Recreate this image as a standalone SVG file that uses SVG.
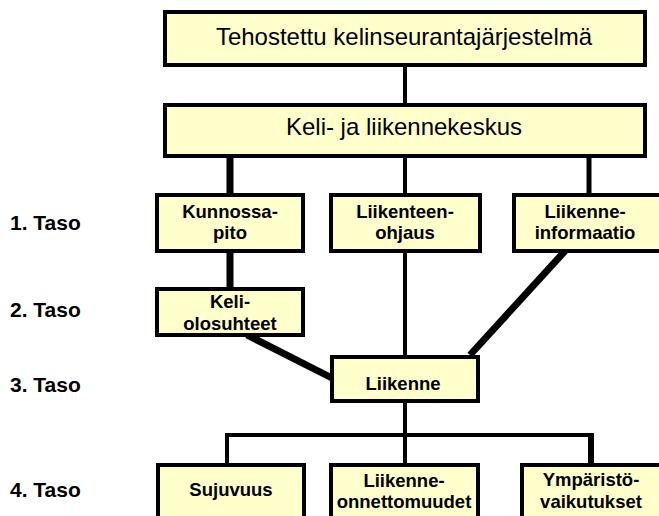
<svg xmlns="http://www.w3.org/2000/svg" width="659" height="516" viewBox="0 0 659 516">
<style>
.box{fill:#FFFFCC;stroke:#000;stroke-width:4}
.t{font-family:"Liberation Sans",Arial,sans-serif;font-size:24px;text-anchor:middle;fill:#000}
.b{font-family:"Liberation Sans",Arial,sans-serif;font-size:18.5px;font-weight:bold;text-anchor:middle;fill:#000}
.lvl{font-family:"Liberation Sans",Arial,sans-serif;font-size:21px;font-weight:bold;fill:#000}
.c{stroke:#000;stroke-width:4;fill:none}
.k{stroke:#000;stroke-width:7;fill:none}
</style>
<rect width="659" height="516" fill="#fff"/>
<g id="connectors">
<line class="c" x1="405" y1="65" x2="405" y2="105"/>
<line class="k" x1="230" y1="156" x2="230" y2="195"/>
<line class="c" x1="405" y1="156" x2="405" y2="195"/>
<line class="c" x1="589" y1="156" x2="589" y2="195" style="stroke-width:5"/>
<line class="k" x1="230" y1="251" x2="230" y2="289"/>
<line class="c" x1="405" y1="251" x2="405" y2="357"/>
<line class="k" x1="247" y1="335" x2="332" y2="378"/>
<line class="k" x1="565" y1="251" x2="470" y2="355"/>
<line class="c" x1="405" y1="401" x2="405" y2="435"/>
<polyline class="c" points="227,465 227,435 591,435"/>
<line class="c" x1="405" y1="435" x2="405" y2="465"/>
<line class="k" x1="591" y1="433" x2="591" y2="465" style="stroke-width:6"/>
</g>
<g id="n-top"><rect class="box" x="165" y="12" width="480" height="53"/><text class="t" x="404" y="45">Tehostettu kelinseurantajärjestelmä</text></g>
<g id="n-keskus"><rect class="box" x="165" y="105" width="480" height="51"/><text class="t" x="404" y="135">Keli- ja liikennekeskus</text></g>
<g id="n-kunnossapito"><rect class="box" x="157" y="195" width="146" height="56"/><text class="b" x="230" y="218">Kunnossa-</text><text class="b" x="230" y="239">pito</text></g>
<g id="n-ohjaus"><rect class="box" x="331" y="195" width="149" height="56"/><text class="b" x="405" y="218">Liikenteen-</text><text class="b" x="405" y="239">ohjaus</text></g>
<g id="n-informaatio"><rect class="box" x="514" y="195" width="148" height="56"/><text class="b" x="585" y="218">Liikenne-</text><text class="b" x="585" y="239">informaatio</text></g>
<g id="n-keli"><rect class="box" x="157" y="289" width="146" height="46"/><text class="b" x="230" y="308">Keli-</text><text class="b" x="230" y="330">olosuhteet</text></g>
<g id="n-liikenne"><rect class="box" x="332" y="357" width="146" height="44"/><text class="b" x="403" y="390">Liikenne</text></g>
<g id="n-sujuvuus"><rect class="box" x="158" y="465" width="146" height="60"/><text class="b" x="231" y="496">Sujuvuus</text></g>
<g id="n-onnettomuudet"><rect class="box" x="331" y="465" width="147" height="60"/><text class="b" x="404" y="487">Liikenne-</text><text class="b" x="404" y="508">onnettomuudet</text></g>
<g id="n-ymparisto"><rect class="box" x="522" y="465" width="140" height="60"/><text class="b" x="591" y="486">Ympäristö-</text><text class="b" x="591" y="508">vaikutukset</text></g>
<g id="levels">
<text class="lvl" x="10" y="230">1. Taso</text>
<text class="lvl" x="10" y="317">2. Taso</text>
<text class="lvl" x="10" y="392">3. Taso</text>
<text class="lvl" x="10" y="497">4. Taso</text>
</g>
</svg>
